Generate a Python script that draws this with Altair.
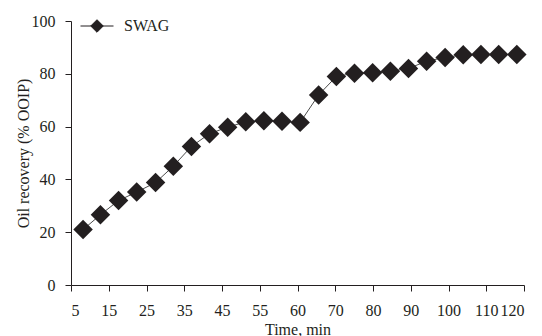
import altair as alt
import pandas as pd

# x tick labels (evenly spaced positions 0..12 on the axis)
x_labels = ["5", "15", "25", "35", "45", "55", "60", "70", "80", "90", "100", "110", "120"]

# marker positions in axis-tick units
x_pos = [0.32, 0.78, 1.26, 1.74, 2.24, 2.71, 3.19, 3.67, 4.15, 4.63, 5.11, 5.59, 6.07,
         6.56, 7.03, 7.51, 7.99, 8.46, 8.94, 9.42, 9.91, 10.39, 10.86, 11.33, 11.81]
recovery = [21.0, 26.6, 32.0, 35.2, 38.8, 45.0, 52.5, 57.3, 59.8, 61.8, 62.2, 62.0, 61.6,
            72.0, 79.0, 80.2, 80.4, 81.0, 82.0, 84.8, 86.2, 87.2, 87.3, 87.3, 87.3]
series = ["SWAG"] * len(x_pos)

df = pd.DataFrame({"x": x_pos, "y": recovery, "series": series})

FONT = "Liberation Serif"
INK = "#231f20"

label_expr = "[" + ",".join("'%s'" % s for s in x_labels) + "][datum.value]"

x_enc = alt.X("x:Q",
              scale=alt.Scale(domain=[0, 12], nice=False, zero=False),
              axis=alt.Axis(title="Time, min", values=list(range(13)), labelExpr=label_expr,
                            grid=False, tickSize=6, labelPadding=11, titlePadding=3))
y_enc = alt.Y("y:Q",
              scale=alt.Scale(domain=[0, 100], nice=False),
              axis=alt.Axis(title="Oil recovery (% OOIP)", values=[0, 20, 40, 60, 80, 100],
                            grid=False, tickSize=6, labelPadding=10, titlePadding=0))

line = alt.Chart(df).mark_line(color="#4d4d4d", strokeWidth=1).encode(x=x_enc, y=y_enc)

points = alt.Chart(df).mark_point(shape="diamond", filled=True, size=380, opacity=1).encode(
    x=x_enc, y=y_enc,
    color=alt.Color("series:N", scale=alt.Scale(range=[INK]),
                    legend=alt.Legend(title=None, orient="none", legendX=9, legendY=-12,
                                      symbolType="M-1,0H1M0,-0.38L0.38,0L0,0.38L-0.38,0Z",
                                      symbolSize=1089, symbolStrokeWidth=1,
                                      symbolStrokeColor=INK, symbolFillColor=INK,
                                      labelFont=FONT, labelFontSize=16, labelColor=INK,
                                      labelOffset=10, padding=0)),
)

chart = (line + points).properties(
    width=453, height=264,
    padding={"left": 7, "top": 1, "right": 0, "bottom": 0},
).configure_view(stroke=None).configure_axis(
    labelFont=FONT, titleFont=FONT, labelFontSize=16, titleFontSize=16,
    labelColor=INK, titleColor=INK, titleFontWeight="normal",
    domainColor=INK, tickColor=INK, domainWidth=1, tickWidth=1,
)

chart.save("out.html", embed_options={"renderer": "svg", "actions": False})
